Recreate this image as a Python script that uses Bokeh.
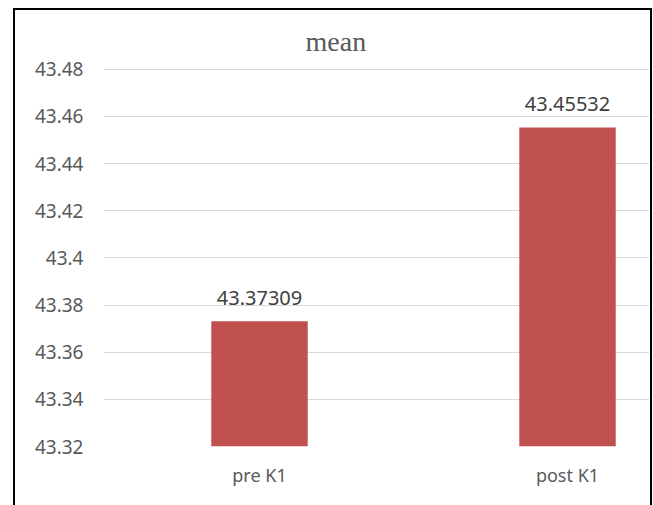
from bokeh.plotting import figure
from bokeh.models import ColumnDataSource, Range1d, FixedTicker
from bokeh.core.properties import value
from bokeh.embed import file_html
from bokeh.resources import INLINE

categories = ["pre K1", "post K1"]
means = [43.37309, 43.45532]
y_ticks = [43.32, 43.34, 43.36, 43.38, 43.40, 43.42, 43.44, 43.46, 43.48]
y_tick_labels = ["43.32", "43.34", "43.36", "43.38", "43.4", "43.42", "43.44", "43.46", "43.48"]
title_text = "mean"

xs = list(range(len(categories)))
src = ColumnDataSource(dict(x=xs, top=means, label=[f"{v:.5f}" for v in means]))

# figure placed at page (15, 10); frame spans page x 103..649, y 69..446
p = figure(width=635, height=495, output_backend="svg", toolbar_location=None,
           x_range=Range1d(-0.5065, 1.2662), y_range=Range1d(43.32, 43.4803),
           min_border_left=88, min_border_right=1, min_border_top=58, min_border_bottom=59,
           margin=(10, 0, 0, 15), title=title_text)
p.styles = {"outline": "2px solid black"}
p.background_fill_color = "white"
p.border_fill_color = "white"
p.outline_line_color = None

p.title.align = "left"
p.title.offset = 202
p.title.standoff = 23
p.title.text_font = "Liberation Serif"
p.title.text_font_size = "28px"
p.title.text_font_style = "normal"
p.title.text_color = "#595959"

p.vbar(x="x", top="top", bottom=43.32, width=0.313, source=src,
       fill_color="#C0504D", line_color=None)
p.text(x="x", y="top", text="label", source=src, text_align="center", text_baseline="alphabetic",
       y_offset=-23, text_font=value("Noto Sans"), text_font_size="20px", text_color="#404040")

p.xgrid.grid_line_color = None
p.ygrid.grid_line_color = "#D9D9D9"
p.ygrid.grid_line_width = 1

p.yaxis.ticker = FixedTicker(ticks=y_ticks)
p.yaxis.major_label_overrides = {t: l for t, l in zip(y_ticks, y_tick_labels)}
p.yaxis.axis_line_color = None
p.yaxis.major_tick_line_color = None
p.yaxis.minor_tick_line_color = None
p.yaxis.major_label_standoff = 14
p.yaxis.major_label_text_font = "Noto Sans"
p.yaxis.major_label_text_font_size = "19px"
p.yaxis.major_label_text_color = "#595959"

p.xaxis.ticker = FixedTicker(ticks=xs)
p.xaxis.major_label_overrides = {i: c for i, c in zip(xs, categories)}
p.xaxis.axis_line_color = None
p.xaxis.major_tick_line_color = None
p.xaxis.minor_tick_line_color = None
p.xaxis.major_label_standoff = 10
p.xaxis.major_label_text_font = "Noto Sans"
p.xaxis.major_label_text_font_size = "18px"
p.xaxis.major_label_text_color = "#595959"

open("out.html", "w").write(file_html(p, INLINE))
